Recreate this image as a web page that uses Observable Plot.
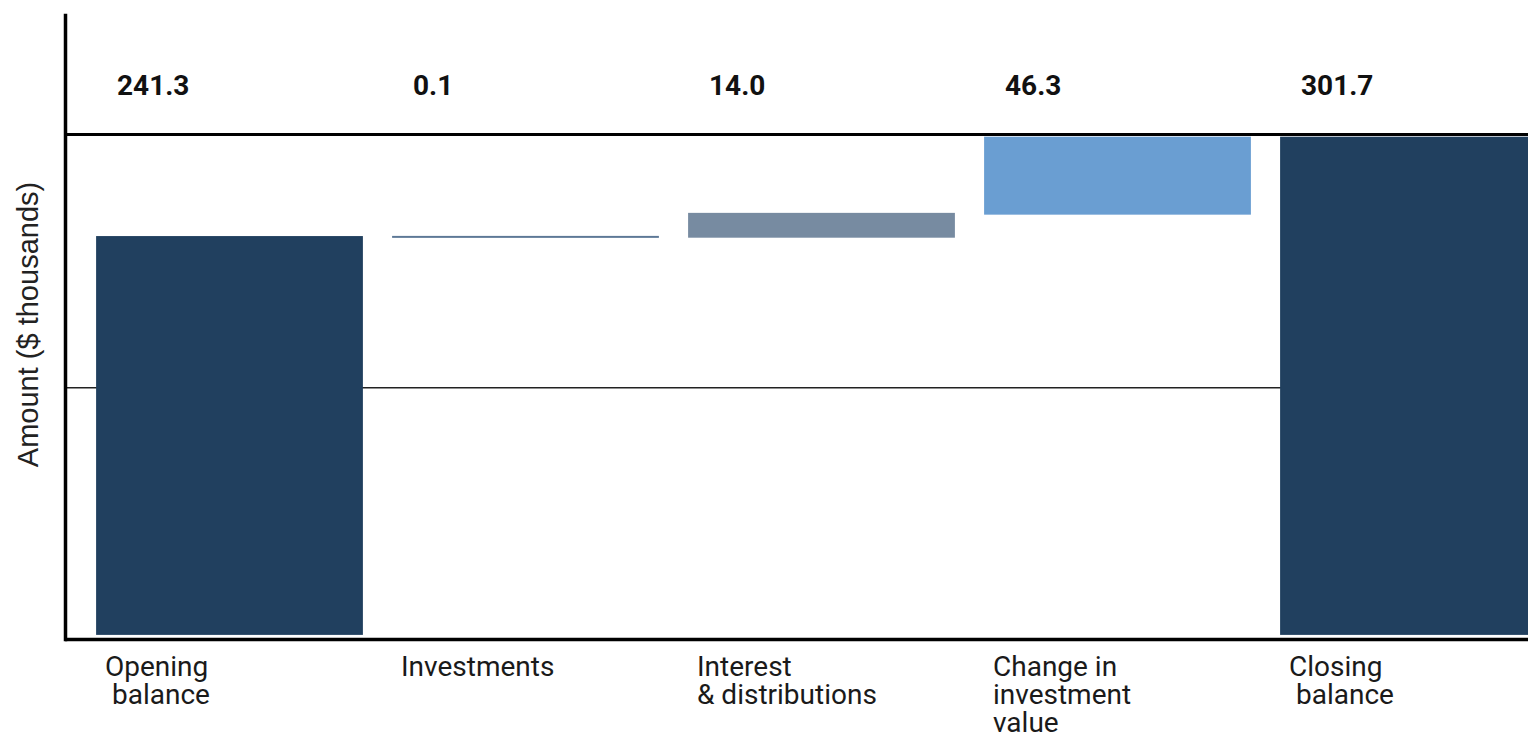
<!DOCTYPE html>
<html><head><meta charset="utf-8">
<script src="https://cdn.jsdelivr.net/npm/d3@7"></script>
<script src="https://cdn.jsdelivr.net/npm/@observablehq/plot@0.6"></script>
<style>html,body{margin:0;padding:0;background:#fff;overflow:hidden;} svg{max-width:none !important;}</style>
</head><body><div id="chart"></div>
<script>
const categories = ["Opening balance", "Investments", "Interest & distributions", "Change in investment value", "Closing balance"];
const axisLabels = ["Opening\n\u00a0balance", "Investments", "Interest\n& distributions", "Change in\ninvestment\nvalue", "Closing\n\u00a0balance"];
const amounts = [241.3, 0.1, 14.0, 46.3, 301.7];
const kinds = ["total", "delta", "delta", "delta", "total"];
const colors = ["#21405f", "#5d7896", "#778ba1", "#6a9ed2", "#21405f"];
const gridValues = [150];
const yAxisTitle = "Amount ($ thousands)";

let running = 0;
const data = categories.map((c, i) => {
  let y1, y2;
  if (kinds[i] === "total") { y1 = 0; y2 = amounts[i]; running = amounts[i]; }
  else { y1 = running; y2 = running + amounts[i]; running = y2; }
  return {category: c, axisLabel: axisLabels[i], amount: amounts[i], y1, y2, color: colors[i]};
});

const yTop = 303.9;     // value at the top rule
const chart = Plot.plot({
  width: 1578,
  height: 733,
  marginLeft: 65,
  marginRight: 0,
  marginTop: 15,
  marginBottom: 94,
  style: {fontFamily: "Roboto", fontSize: "28px", color: "#1a1a1a", background: "white", overflow: "visible", maxWidth: "none"},
  x: {type: "band", domain: categories, padding: 0.104, axis: null},
  y: {domain: [-3.04, 376.2], axis: null},
  marks: [
    Plot.ruleY(gridValues, {stroke: "#222", strokeWidth: 1.5}),
    Plot.barY(data, {x: "category", y1: "y1", y2: "y2", fill: "color", stroke: "color", strokeWidth: 1.8}),
    Plot.ruleY([yTop], {stroke: "#000", strokeWidth: 3}),
    Plot.ruleY([-3.04], {stroke: "#000", strokeWidth: 3.5}),
    Plot.frame({anchor: "left", stroke: "#000", strokeWidth: 3.5}),
    Plot.text(data, {x: "category", text: d => d.amount.toFixed(1), frameAnchor: "top", textAnchor: "start", dx: -113, dy: 60, fontWeight: "bold", fontSize: 28, fill: "#111"}),
    Plot.text(data, {x: "category", text: "axisLabel", frameAnchor: "bottom", lineAnchor: "top", textAnchor: "start", dx: -125, dy: 17, fontSize: 28, lineHeight: 1.0, fill: "#1a1a1a"}),
    Plot.text([yAxisTitle], {text: d => d, frameAnchor: "left", textAnchor: "middle", rotate: -90, dx: -37, dy: -3, fontFamily: "Liberation Sans", fontSize: 29, fill: "#222"})
  ]
});
document.getElementById("chart").appendChild(chart);
</script>
</body></html>
